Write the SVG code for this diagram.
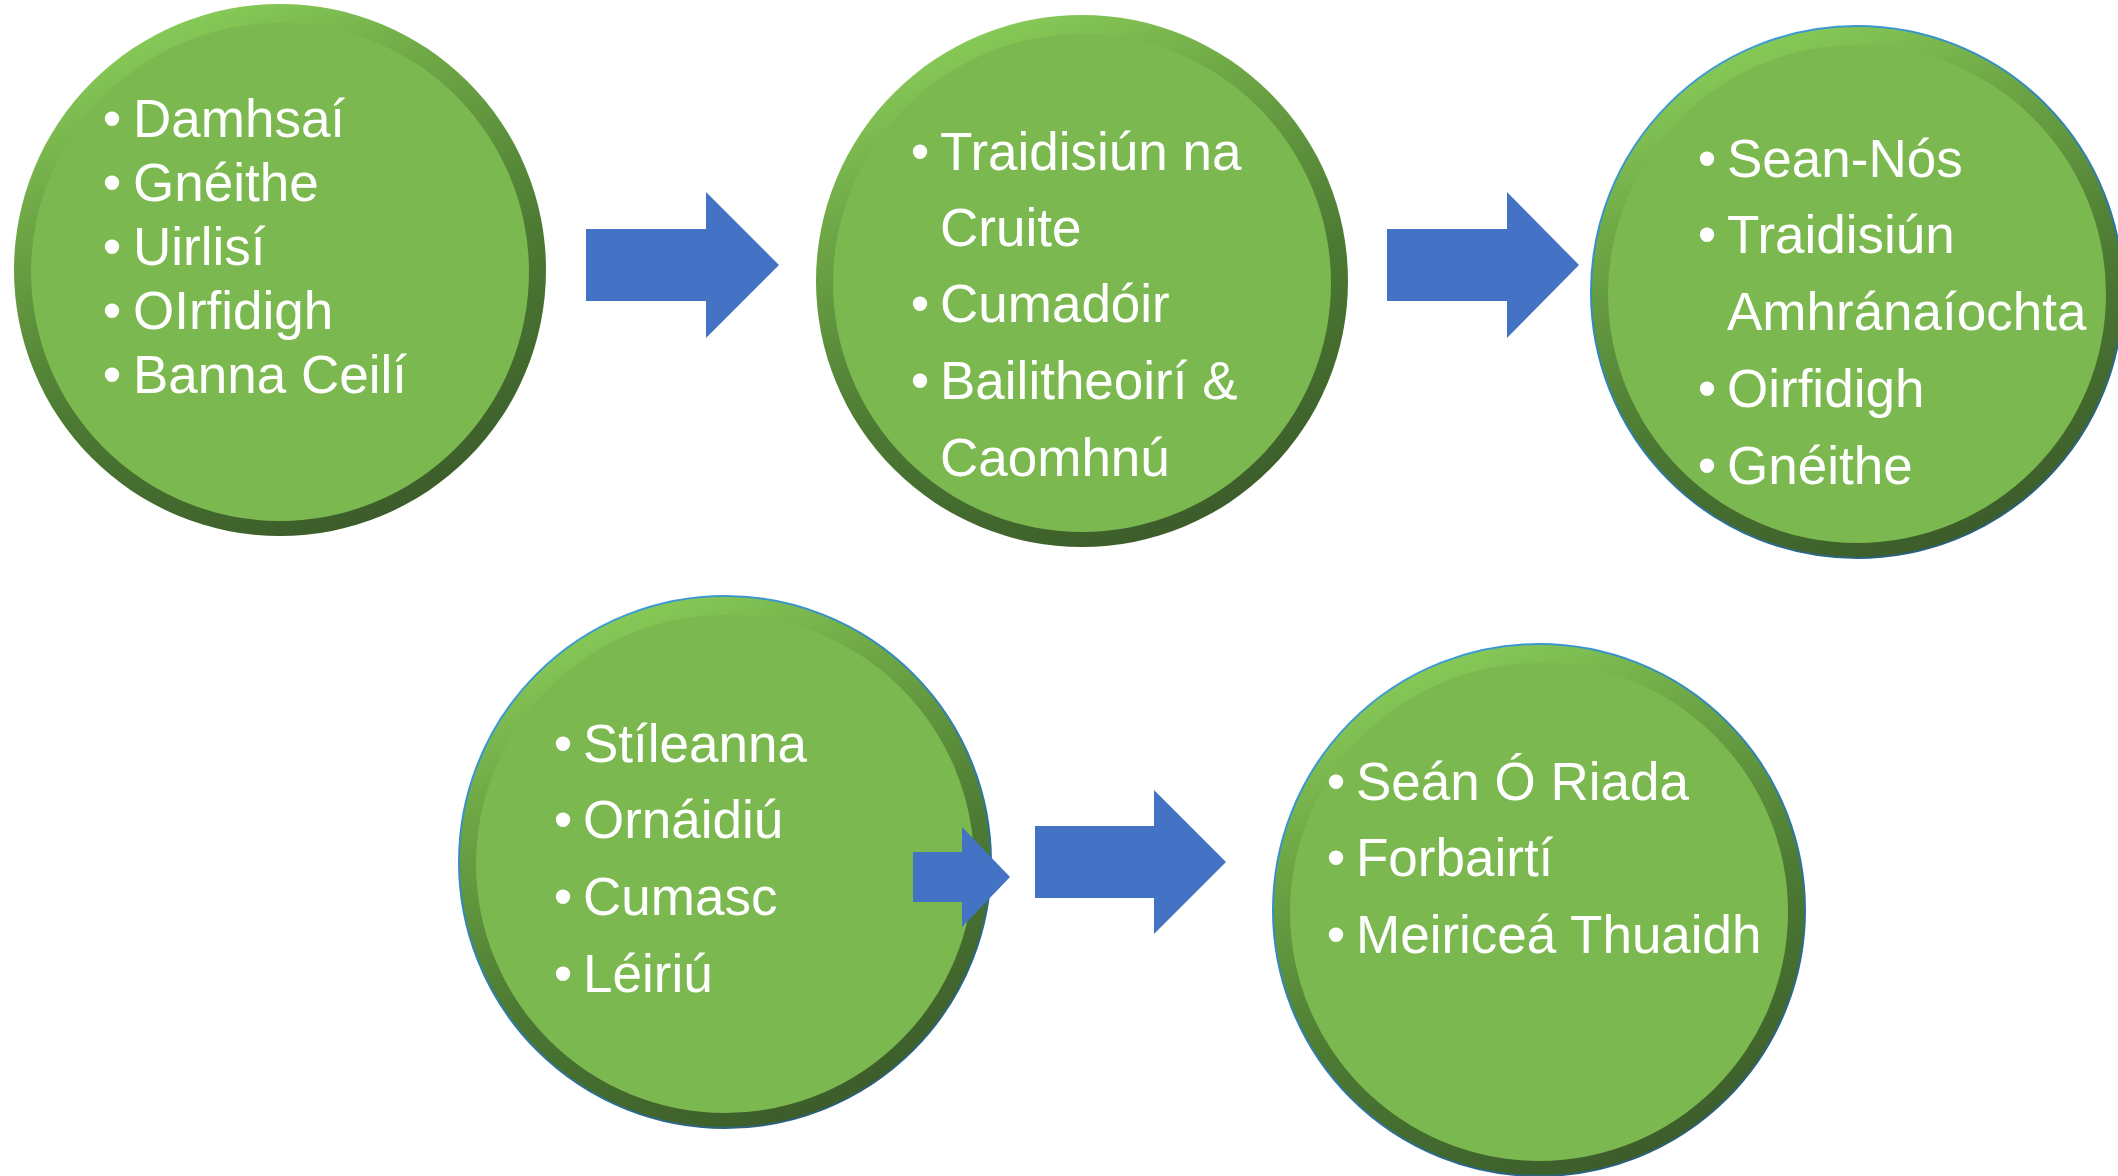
<svg xmlns="http://www.w3.org/2000/svg" width="2118" height="1176" viewBox="0 0 2118 1176">
<defs>
<linearGradient id="ring" x1="0.3" y1="0" x2="0.7" y2="1">
<stop offset="0" stop-color="#8ace5a"/>
<stop offset="0.25" stop-color="#6fa846"/>
<stop offset="0.6" stop-color="#4c7a33"/>
<stop offset="1" stop-color="#3b5a2a"/>
</linearGradient>
<linearGradient id="edge" x1="0.2" y1="0" x2="0.8" y2="1">
<stop offset="0" stop-color="#3fa0d8"/>
<stop offset="0.5" stop-color="#2f7fb0"/>
<stop offset="1" stop-color="#2a5a70"/>
</linearGradient>
<style>
.ring{fill:url(#ring)}
.ring.b{stroke:url(#edge);stroke-width:2}
.core{fill:#7bb84f}
.t{font-family:"Liberation Sans",Arial,sans-serif;font-size:53px;fill:#ffffff}
.bul{font-family:"Liberation Sans",Arial,sans-serif;font-size:53px;fill:#ffffff;text-anchor:middle}
.arrow{fill:#4472c4}
</style>
</defs>
<rect width="2118" height="1176" fill="#ffffff"/>

<g id="node1">
<circle class="ring" cx="280" cy="270" r="266"/>
<circle class="core" cx="280" cy="272" r="249"/>
<text class="bul" x="112" y="137">•</text><text class="t" x="133" y="137">Damhsaí</text>
<text class="bul" x="112" y="201">•</text><text class="t" x="133" y="201">Gnéithe</text>
<text class="bul" x="112" y="265">•</text><text class="t" x="133" y="265">Uirlisí</text>
<text class="bul" x="112" y="329">•</text><text class="t" x="133" y="329">OIrfidigh</text>
<text class="bul" x="112" y="393">•</text><text class="t" x="133" y="393">Banna Ceilí</text>
</g>

<g id="node2">
<circle class="ring" cx="1082" cy="281" r="266"/>
<circle class="core" cx="1082" cy="283" r="249"/>
<text class="bul" x="920" y="170">•</text><text class="t" x="940" y="170">Traidisiún na</text>
<text class="t" x="940" y="246">Cruite</text>
<text class="bul" x="920" y="322">•</text><text class="t" x="940" y="322">Cumadóir</text>
<text class="bul" x="920" y="399">•</text><text class="t" x="940" y="399">Bailitheoirí &amp;</text>
<text class="t" x="940" y="476">Caomhnú</text>
</g>

<g id="node3">
<circle class="ring b" cx="1857" cy="292" r="266"/>
<circle class="core" cx="1857" cy="294" r="249"/>
<text class="bul" x="1707" y="177">•</text><text class="t" x="1727" y="177">Sean-Nós</text>
<text class="bul" x="1707" y="253">•</text><text class="t" x="1727" y="253">Traidisiún</text>
<text class="t" x="1727" y="330">Amhránaíochta</text>
<text class="bul" x="1707" y="407">•</text><text class="t" x="1727" y="407">Oirfidigh</text>
<text class="bul" x="1707" y="484">•</text><text class="t" x="1727" y="484">Gnéithe</text>
</g>

<g id="node4">
<circle class="ring b" cx="725" cy="862" r="266"/>
<circle class="core" cx="725" cy="864" r="249"/>
<text class="bul" x="563" y="762">•</text><text class="t" x="583" y="762">Stíleanna</text>
<text class="bul" x="563" y="838">•</text><text class="t" x="583" y="838">Ornáidiú</text>
<text class="bul" x="563" y="915">•</text><text class="t" x="583" y="915">Cumasc</text>
<text class="bul" x="563" y="992">•</text><text class="t" x="583" y="992">Léiriú</text>
</g>

<g id="node5">
<circle class="ring b" cx="1539" cy="910" r="266"/>
<circle class="core" cx="1539" cy="912" r="249"/>
<text class="bul" x="1336" y="800">•</text><text class="t" x="1356" y="800">Seán Ó Riada</text>
<text class="bul" x="1336" y="876">•</text><text class="t" x="1356" y="876">Forbairtí</text>
<text class="bul" x="1336" y="953">•</text><text class="t" x="1356" y="953">Meiriceá Thuaidh</text>
</g>

<g id="connectors">
<polygon class="arrow" points="586,229 706,229 706,192 779,265 706,338 706,301 586,301"/>
<polygon class="arrow" points="1387,229 1507,229 1507,192 1579,265 1507,338 1507,301 1387,301"/>
<polygon class="arrow" points="913,852 962,852 962,827 1010,877 962,927 962,902 913,902"/>
<polygon class="arrow" points="1035,826 1154,826 1154,790 1226,862 1154,934 1154,898 1035,898"/>
</g>
</svg>
